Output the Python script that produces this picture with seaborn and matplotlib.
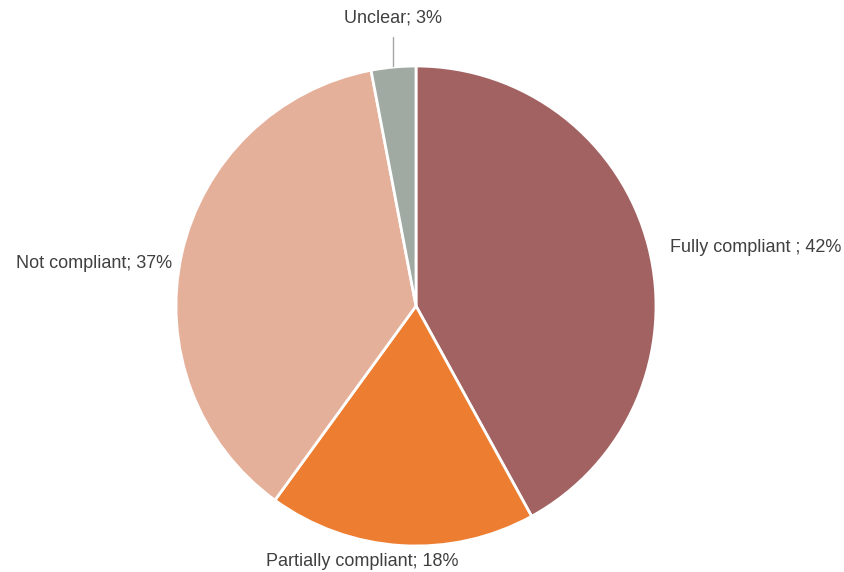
import matplotlib
matplotlib.use("Agg")
import matplotlib.pyplot as plt
import seaborn as sns

categories = ["Fully compliant ", "Partially compliant", "Not compliant", "Unclear"]
shares = [42, 18, 37, 3]
colors = ["#A16261", "#ED7D31", "#E5B09A", "#A0AAA2"]

sns.set_theme(style="white")
plt.rcParams["font.family"] = ["Liberation Sans", "DejaVu Sans"]

W, H = 844, 572
cx, cy, r = 416, 306, 240
fig = plt.figure(figsize=(W / 100, H / 100), dpi=100)
ax = fig.add_axes([0, 0, 1, 1])

palette = sns.color_palette(colors)
ax.pie(shares, colors=palette, startangle=90, counterclock=False, radius=1.0,
       wedgeprops=dict(edgecolor="white", linewidth=2))

# one data unit = r pixels, pie centre at (cx, cy) in pixel coordinates
ax.set_xlim(-cx / r, (W - cx) / r)
ax.set_ylim(-(H - cy) / r, cy / r)
ax.set_aspect("equal")
ax.axis("off")

def px(x, y):
    return (x - cx) / r, (cy - y) / r

tc = "#404040"
fs = 13
labels = [f"{c}; {v}%" for c, v in zip(categories, shares)]
ax.text(*px(670, 247), labels[0], ha="left", va="center", fontsize=fs, color=tc)
ax.text(*px(362, 562), labels[1], ha="center", va="center", fontsize=fs, color=tc)
ax.text(*px(172, 264), labels[2], ha="right", va="center", fontsize=fs, color=tc)
ax.text(*px(393, 18), labels[3], ha="center", va="center", fontsize=fs, color=tc)
x0, y0 = px(393, 37)
x1, y1 = px(393, 66)
ax.plot([x0, x1], [y0, y1], color="#A6A6A6", linewidth=1)

fig.savefig("out.png", dpi=100)
